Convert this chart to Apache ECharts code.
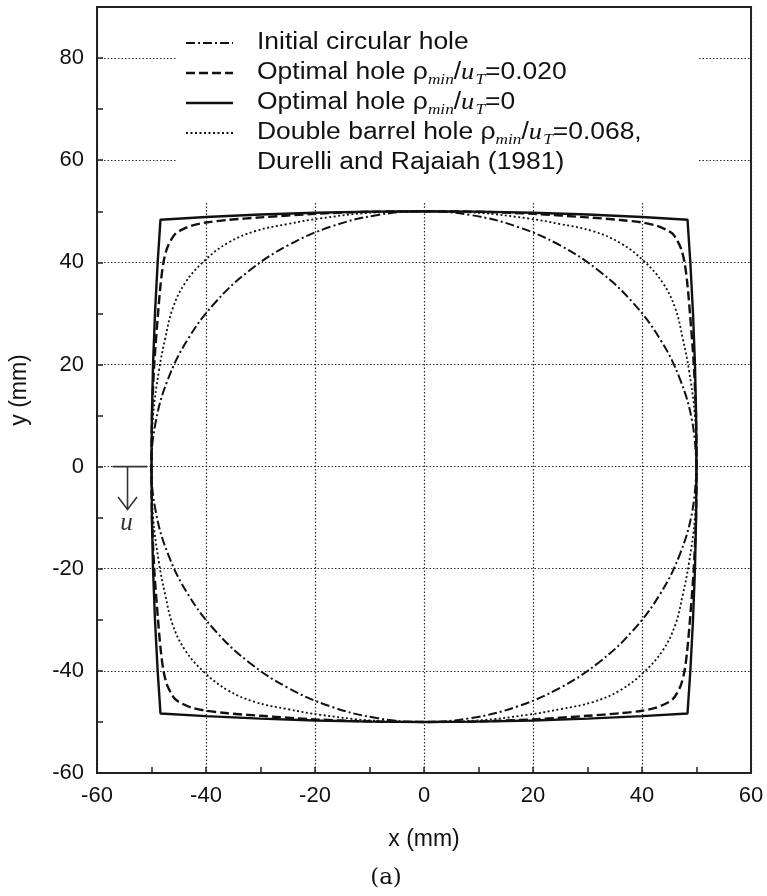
<!DOCTYPE html>
<html>
<head>
<meta charset="utf-8">
<script src="https://cdn.jsdelivr.net/npm/echarts@6/dist/echarts.min.js"></script>
<style>
  html, body { margin: 0; padding: 0; background: #ffffff; }
  #chart { width: 767px; height: 896px; }
</style>
</head>
<body>
<div id="chart"></div>
<script>
// Hole contours, [x (mm), y (mm)], traced around the full boundary.
const initialHole = [
  [50, 0], [49.24, 8.68], [46.98, 17.10], [43.30, 25.00], [38.30, 32.14], [32.14, 38.30],
  [25.00, 43.30], [17.10, 46.98], [8.68, 49.24], [0, 50], [-8.68, 49.24], [-17.10, 46.98],
  [-25.00, 43.30], [-32.14, 38.30], [-38.30, 32.14], [-43.30, 25.00], [-46.98, 17.10], [-49.24, 8.68],
  [-50, 0], [-49.24, -8.68], [-46.98, -17.10], [-43.30, -25.00], [-38.30, -32.14], [-32.14, -38.30],
  [-25.00, -43.30], [-17.10, -46.98], [-8.68, -49.24], [0, -50], [8.68, -49.24], [17.10, -46.98],
  [25.00, -43.30], [32.14, -38.30], [38.30, -32.14], [43.30, -25.00], [46.98, -17.10], [49.24, -8.68],
  [50, 0]
];

const optimalHole020 = [
  [0, 50], [10, 49.9], [20, 49.5], [30, 48.8], [36, 48.3], [40, 47.8], [42.6, 47.2], [44.4, 46.4],
  [45.6, 45.6], [46.4, 44.4], [47.2, 42.6], [47.8, 40], [48.3, 36], [48.8, 30], [49.5, 20], [49.9, 10],
  [50, 0], [49.9, -10], [49.5, -20], [48.8, -30], [48.3, -36], [47.8, -40], [47.2, -42.6], [46.4, -44.4],
  [45.6, -45.6], [44.4, -46.4], [42.6, -47.2], [40, -47.8], [36, -48.3], [30, -48.8], [20, -49.5], [10, -49.9],
  [0, -50], [-10, -49.9], [-20, -49.5], [-30, -48.8], [-36, -48.3], [-40, -47.8], [-42.6, -47.2], [-44.4, -46.4],
  [-45.6, -45.6], [-46.4, -44.4], [-47.2, -42.6], [-47.8, -40], [-48.3, -36], [-48.8, -30], [-49.5, -20], [-49.9, -10],
  [-50, 0], [-49.9, 10], [-49.5, 20], [-48.8, 30], [-48.3, 36], [-47.8, 40], [-47.2, 42.6], [-46.4, 44.4],
  [-45.6, 45.6], [-44.4, 46.4], [-42.6, 47.2], [-40, 47.8], [-36, 48.3], [-30, 48.8], [-20, 49.5], [-10, 49.9],
  [0, 50]
];

const optimalHole0 = [
  [0, 50], [10, 49.93], [20, 49.72], [30, 49.36], [40, 48.87], [48.35, 48.35],
  [48.87, 40], [49.36, 30], [49.72, 20], [49.93, 10], [50, 0], [49.93, -10], [49.72, -20], [49.36, -30], [48.87, -40],
  [48.35, -48.35], [40, -48.87], [30, -49.36], [20, -49.72], [10, -49.93], [0, -50],
  [-10, -49.93], [-20, -49.72], [-30, -49.36], [-40, -48.87], [-48.35, -48.35],
  [-48.87, -40], [-49.36, -30], [-49.72, -20], [-49.93, -10], [-50, 0], [-49.93, 10], [-49.72, 20], [-49.36, 30], [-48.87, 40],
  [-48.35, 48.35], [-40, 48.87], [-30, 49.36], [-20, 49.72], [-10, 49.93], [0, 50]
];

const doubleBarrelHole = [
  [0, 50], [10, 49.7], [19, 48.6], [25, 47.5], [31, 46.1], [36, 43.8], [40.3, 40.3],
  [43.8, 36], [46.1, 31], [47.5, 25], [48.6, 19], [49.7, 10], [50, 0],
  [49.7, -10], [48.6, -19], [47.5, -25], [46.1, -31], [43.8, -36], [40.3, -40.3],
  [36, -43.8], [31, -46.1], [25, -47.5], [19, -48.6], [10, -49.7], [0, -50],
  [-10, -49.7], [-19, -48.6], [-25, -47.5], [-31, -46.1], [-36, -43.8], [-40.3, -40.3],
  [-43.8, -36], [-46.1, -31], [-47.5, -25], [-48.6, -19], [-49.7, -10], [-50, 0],
  [-49.7, 10], [-48.6, 19], [-47.5, 25], [-46.1, 31], [-43.8, 36], [-40.3, 40.3],
  [-36, 43.8], [-31, 46.1], [-25, 47.5], [-19, 48.6], [-10, 49.7], [0, 50]
];

// Labelled tick values on each axis
const xTickLabels = [-60, -40, -20, 0, 20, 40, 60];
const yTickLabels = [-60, -40, -20, 0, 20, 40, 60, 80];

const INK = '#111111';
const SANS = '"Liberation Sans", Arial, Helvetica, sans-serif';
const SERIF = '"Liberation Serif", "Times New Roman", serif';

const DASH_DOT = [9, 3, 2, 3];
const DASHED = [9, 4];
const DOTTED = [2, 2.5];

const chart = echarts.init(document.getElementById('chart'), null, { renderer: 'canvas' });

const gridLine = {
  show: true,
  lineStyle: { type: [1.5, 2], width: 1.2, color: ['#2a2a2a', 'rgba(0,0,0,0)'] }
};

function axisCommon(labels) {
  return {
    type: 'value',
    interval: 10,
    axisLine: { show: true, onZero: false, lineStyle: { color: '#222', width: 2 } },
    axisTick: { show: true, inside: true, length: 6, lineStyle: { color: '#222', width: 1.5 } },
    axisLabel: {
      color: '#111',
      fontFamily: SANS,
      fontSize: 22,
      showMinLabel: true,
      showMaxLabel: true,
      formatter: v => (labels.indexOf(v) >= 0 ? String(v) : '')
    },
    splitLine: gridLine,
    nameTextStyle: { color: '#111', fontFamily: SANS, fontSize: 23 }
  };
}

const xAxis = Object.assign(axisCommon(xTickLabels), {
  min: -60, max: 60,
  name: 'x (mm)', nameLocation: 'middle', nameGap: 55
});
xAxis.axisLabel.margin = 12;

const yAxis = Object.assign(axisCommon(yTickLabels), {
  min: -60, max: 90,
  name: 'y (mm)', nameLocation: 'middle', nameGap: 66, nameRotate: 90
});
yAxis.axisLabel.margin = 13;

function contour(name, data, type, width, smooth) {
  return {
    name, type: 'line', data, smooth,
    showSymbol: false, symbol: 'none',
    lineStyle: { color: INK, width, type },
    emphasis: { disabled: true },
    z: 3
  };
}

const option = {
  animation: false,
  backgroundColor: '#ffffff',
  grid: { left: 97, right: 16, top: 7, bottom: 123, show: true, borderColor: '#222', borderWidth: 2, backgroundColor: 'transparent' },
  xAxis,
  yAxis,
  series: [
    contour('Initial circular hole', initialHole, DASH_DOT, 2, 0.4),
    contour('Optimal hole 0.020', optimalHole020, DASHED, 2.4, 0.3),
    contour('Optimal hole 0', optimalHole0, 'solid', 2.4, false),
    contour('Double barrel hole 0.068', doubleBarrelHole, DOTTED, 1.8, 0.4)
  ]
};
chart.setOption(option);

// ---- legend (drawn as graphics to get the sub/italic notation) ----
const measureCtx = document.createElement('canvas').getContext('2d');
function textWidth(str, font) { measureCtx.font = font; return measureCtx.measureText(str).width; }

const F_MAIN = '23px ' + SANS;
const F_IT = 'italic 23px ' + SERIF;
const F_SUB = 'italic 15px ' + SERIF;

function ratioParts(prefix, suffix) {
  return [
    { t: prefix, f: F_MAIN, dy: 0 },
    { t: 'min', f: F_SUB, dy: 7 },
    { t: '/', f: F_MAIN, dy: 0 },
    { t: 'u', f: F_IT, dy: 0 },
    { t: 'T', f: F_SUB, dy: 7 },
    { t: suffix, f: F_MAIN, dy: 0 }
  ];
}

const legendRows = [
  { y: 43, dash: DASH_DOT, width: 2, parts: [{ t: 'Initial circular hole', f: F_MAIN, dy: 0 }] },
  { y: 73, dash: DASHED, width: 2.4, parts: ratioParts('Optimal hole \u03C1', '=0.020') },
  { y: 103, dash: 'solid', width: 2.4, parts: ratioParts('Optimal hole \u03C1', '=0') },
  { y: 133, dash: DOTTED, width: 1.8, parts: ratioParts('Double barrel hole \u03C1', '=0.068,') },
  { y: 163, dash: null, width: 0, parts: [{ t: 'Durelli and Rajaiah (1981)', f: F_MAIN, dy: 0 }] }
];

// opaque legend panel, hiding the grid behind it
const legendGraphics = [{
  type: 'rect',
  shape: { x: 177, y: 8, width: 521, height: 195 },
  style: { fill: '#ffffff', stroke: null },
  z: 50
}];
legendRows.forEach(row => {
  if (row.dash) {
    legendGraphics.push({
      type: 'line', z: 51,
      shape: { x1: 186, y1: row.y, x2: 233, y2: row.y },
      style: { stroke: INK, lineWidth: row.width, lineDash: row.dash === 'solid' ? null : row.dash }
    });
  }
  let cx = 0;
  const children = [];
  row.parts.forEach(p => {
    children.push({
      type: 'text', x: cx, y: row.y + p.dy, z: 52,
      style: { text: p.t, font: p.f, fill: '#111', align: 'left', verticalAlign: 'middle' }
    });
    cx += textWidth(p.t, p.f) + (p.f === F_IT ? 1 : 0);
  });
  legendGraphics.push({ type: 'group', x: 257, y: 0, scaleX: 1.15, z: 52, children });
});

// ---- displacement arrow "u" on the left side of the hole ----
const px = (x, y) => chart.convertToPixel({ gridIndex: 0 }, [x, y]);
const barA = px(-57.1, 0), barB = px(-50.8, 0);
const shaftTop = px(-54.4, 0), shaftTip = px(-54.4, -8.4);
const uPos = px(-54.6, -11.2);

const arrowGraphics = [
  { type: 'line', shape: { x1: barA[0], y1: barA[1], x2: barB[0], y2: barB[1] }, style: { stroke: '#333', lineWidth: 1.6 } },
  { type: 'line', shape: { x1: shaftTop[0], y1: shaftTop[1], x2: shaftTip[0], y2: shaftTip[1] }, style: { stroke: '#333', lineWidth: 1.6 } },
  { type: 'polyline', shape: { points: [[shaftTip[0] - 9.5, shaftTip[1] - 12.5], [shaftTip[0], shaftTip[1]], [shaftTip[0] + 9.5, shaftTip[1] - 12.5]] }, style: { stroke: '#333', lineWidth: 1.6, fill: null } },
  { type: 'text', x: uPos[0], y: uPos[1], style: { text: 'u', font: 'italic 25px ' + SERIF, fill: '#333', align: 'center', verticalAlign: 'middle' } }
];

const caption = {
  type: 'text', x: 386, y: 878,
  style: { text: '(a)', font: '23px "DejaVu Serif", serif', fill: '#111', align: 'center', verticalAlign: 'middle' }
};

chart.setOption({ graphic: legendGraphics.concat(arrowGraphics, [caption]) });
</script>
</body>
</html>
